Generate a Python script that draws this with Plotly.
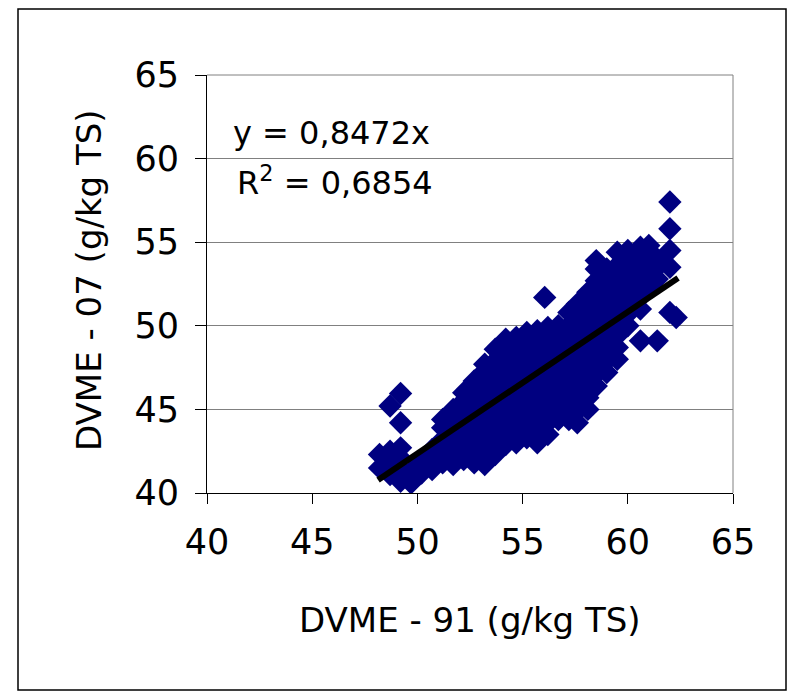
import plotly.graph_objects as go

# ---- data (x = DVME-91, y = DVME-07) ----
# points are listed column by column (one x value per column)
dvme91 = (
    [48.2] * 2 + [48.7] * 4 + [49.2] * 6 + [49.7] * 2 + [50.2] * 2 + [50.7] * 3
    + [51.2] * 5 + [51.7] * 6 + [52.2] * 7 + [52.7] * 8 + [53.2] * 10 + [53.7] * 10
    + [54.2] * 10 + [54.7] * 10 + [55.2] * 10 + [55.7] * 11 + [56.05] + [56.2] * 10
    + [56.7] * 9 + [57.2] * 10 + [57.6] * 11 + [58.1] * 11 + [58.5] * 12 + [59.0] * 10
    + [59.5] * 10 + [60.0] * 8 + [60.6] * 7 + [61.0] * 5 + [61.4] * 4 + [62.0] * 5
    + [62.3]
)
dvme07 = [
    41.5, 42.3,
    41.1, 41.8, 42.5, 45.2,
    40.7, 41.4, 42.1, 42.7, 44.2, 45.95,
    40.6, 41.3,
    41.2, 41.9,
    41.4, 42.1, 42.6,
    41.8, 42.5, 43.2, 43.9, 44.4,
    41.7, 42.4, 43.1, 43.8, 44.5, 45.0,
    42.0, 42.7, 43.4, 44.1, 44.8, 45.5, 46.0,
    41.8, 42.5, 43.2, 43.9, 44.6, 45.3, 46.0, 46.7,
    41.7, 42.4, 43.1, 43.8, 44.5, 45.2, 45.9, 46.6, 47.3, 47.7,
    42.3, 43.0, 43.7, 44.4, 45.1, 45.8, 46.5, 47.2, 47.9, 48.6,
    42.9, 43.6, 44.3, 45.0, 45.7, 46.4, 47.1, 47.8, 48.5, 49.2,
    43.0, 43.7, 44.4, 45.1, 45.8, 46.5, 47.2, 47.9, 48.6, 49.3,
    43.3, 44.0, 44.7, 45.4, 46.1, 46.8, 47.5, 48.2, 48.9, 49.6,
    43.0, 43.7, 44.4, 45.1, 45.8, 46.5, 47.2, 47.9, 48.6, 49.3, 49.7,
    51.7,
    43.5, 44.2, 44.9, 45.6, 46.3, 47.0, 47.7, 48.4, 49.1, 49.9,
    44.4, 45.1, 45.8, 46.5, 47.2, 47.9, 48.6, 49.3, 50.0,
    44.4, 45.1, 45.8, 46.5, 47.2, 47.9, 48.6, 49.3, 50.0, 50.8,
    44.2, 44.9, 45.6, 46.3, 47.0, 47.7, 48.4, 49.1, 49.8, 50.5, 51.3,
    45.0, 45.7, 46.4, 47.1, 47.8, 48.5, 49.2, 49.9, 50.6, 51.3, 52.0,
    46.4, 47.1, 47.8, 48.5, 49.2, 49.9, 50.6, 51.3, 52.0, 52.7, 53.4, 53.9,
    47.2, 47.9, 48.6, 49.3, 50.0, 50.7, 51.4, 52.1, 52.8, 53.4,
    48.0, 48.7, 49.4, 50.1, 50.8, 51.5, 52.2, 52.9, 53.6, 54.4,
    50.0, 50.7, 51.4, 52.1, 52.8, 53.5, 54.2, 54.5,
    49.1, 51.0, 51.7, 52.4, 53.1, 53.8, 54.7,
    52.3, 53.0, 53.7, 54.4, 54.8,
    49.1, 52.8, 53.5, 54.0,
    50.8, 53.5, 54.5, 55.8, 57.4,
    50.5,
]
assert len(dvme91) == len(dvme07)

trend_slope = 0.8472
trend_x = [48.13, 62.39]
trend_y = [trend_slope * v for v in trend_x]

x_ticks = [40, 45, 50, 55, 60, 65]
y_ticks = [40, 45, 50, 55, 60, 65]

FONT = "DejaVu Sans"

# plot-area pixel box used for placing paper-referenced items
L, R, T, B = 207, 733, 75, 493
W, H = 790, 693


def px(xp):
    return (xp - L) / (R - L)


def py(yp):
    return (B - yp) / (B - T)


fig = go.Figure()
fig.add_trace(go.Scatter(
    x=dvme91, y=dvme07, mode="markers",
    marker=dict(symbol="diamond", size=18, color="#000080", line=dict(width=0)),
    showlegend=False, hoverinfo="skip",
))
fig.add_trace(go.Scatter(
    x=trend_x, y=trend_y, mode="lines",
    line=dict(color="black", width=6),
    showlegend=False, hoverinfo="skip",
))

fig.update_layout(
    width=W, height=H, autosize=False,
    margin=dict(l=L, r=W - R, t=T, b=H - B, pad=0),
    paper_bgcolor="white", plot_bgcolor="white",
    font=dict(family=FONT, color="black"),
    xaxis=dict(
        range=[40, 65], tickvals=x_ticks, ticktext=[str(v) for v in x_ticks],
        showgrid=False, zeroline=False,
        showline=True, linecolor="black", linewidth=1,
        ticks="outside", ticklen=10, tickcolor="black", tickwidth=1,
        tickfont=dict(family=FONT, size=35, color="black"),
        ticklabelstandoff=8,
    ),
    yaxis=dict(
        range=[40, 65], tickvals=y_ticks, ticktext=[str(v) for v in y_ticks],
        showgrid=True, gridcolor="#808080", gridwidth=1, zeroline=False,
        showline=True, linecolor="black", linewidth=1,
        ticks="outside", ticklen=11, tickcolor="black", tickwidth=1,
        tickfont=dict(family=FONT, size=35, color="black"),
        ticklabelstandoff=9,
    ),
    shapes=[
        dict(type="line", xref="paper", yref="paper", x0=1, x1=1, y0=0, y1=1,
             line=dict(color="#808080", width=1)),
        dict(type="line", xref="paper", yref="paper", x0=0, x1=1, y0=1, y1=1,
             line=dict(color="#808080", width=1)),
        dict(type="rect", xref="paper", yref="paper",
             x0=px(18), x1=px(786), y0=py(690), y1=py(9),
             line=dict(color="black", width=1.5), fillcolor="rgba(0,0,0,0)"),
    ],
    annotations=[
        dict(text="y = 0,8472x", xref="paper", yref="paper",
             x=px(231), y=py(133), xanchor="left", yanchor="middle",
             showarrow=False, font=dict(family=FONT, size=32, color="black")),
        dict(text="R<sup>2</sup> = 0,6854", xref="paper", yref="paper",
             x=px(235), y=py(181), xanchor="left", yanchor="middle",
             showarrow=False, font=dict(family=FONT, size=32, color="black")),
        dict(text="DVME - 91 (g/kg TS)", xref="paper", yref="paper",
             x=px(470), y=py(620), xanchor="center", yanchor="middle",
             showarrow=False, font=dict(family=FONT, size=34, color="black")),
        dict(text="DVME - 07 (g/kg TS)", xref="paper", yref="paper",
             x=px(89), y=py(280), xanchor="center", yanchor="middle",
             textangle=-90,
             showarrow=False, font=dict(family=FONT, size=34, color="black")),
    ],
)

fig.write_html(
    "out.html",
    config={"displayModeBar": False},
    post_script="document.body.style.margin='0px';document.body.style.overflow='hidden';",
)
